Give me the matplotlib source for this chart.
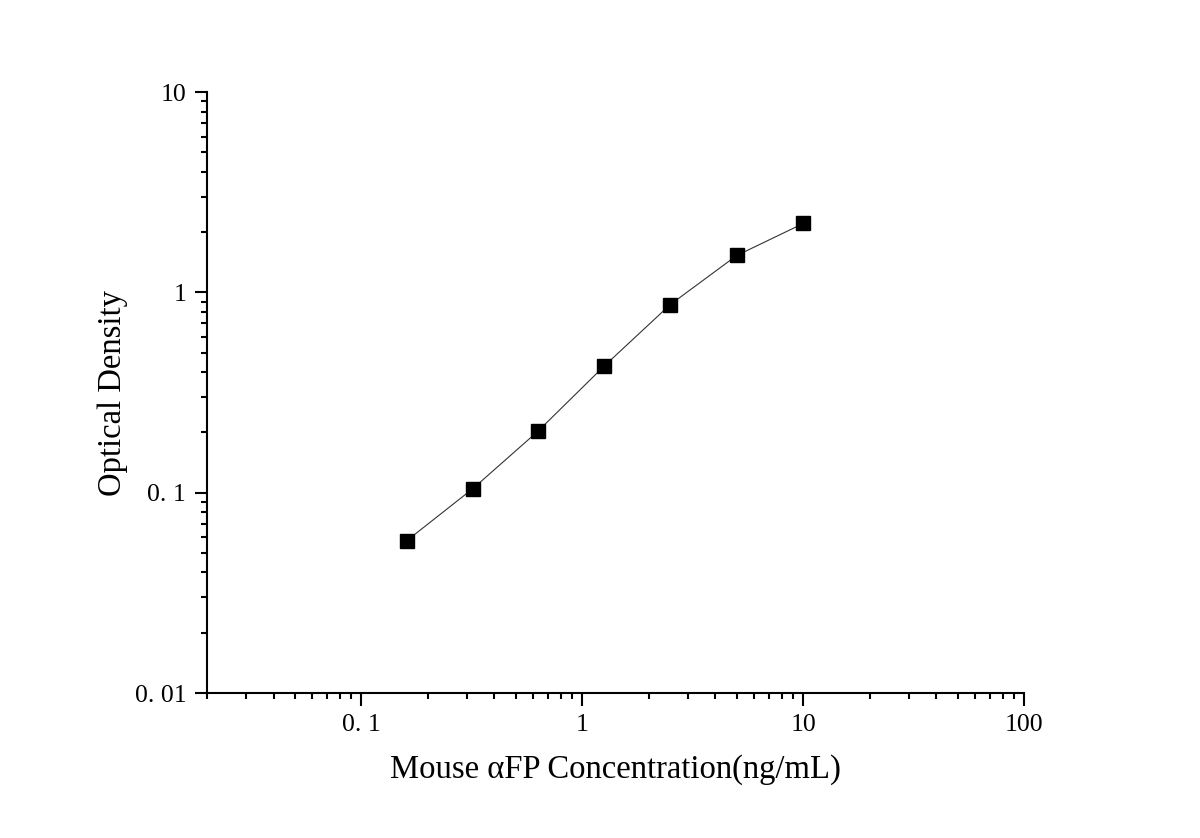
import numpy as np
import matplotlib.pyplot as plt
from matplotlib.ticker import FixedLocator, LogLocator, NullFormatter

# standard curve readings
conc = [0.16, 0.32, 0.63, 1.25, 2.5, 5, 10]
od = [0.0575, 0.105, 0.203, 0.427, 0.87, 1.53, 2.21]

xticks = [0.1, 1, 10, 100]
xlabels = ['0. 1', '1', '10', '100']
yticks = [0.01, 0.1, 1, 10]
ylabels = ['0. 01', '0. 1', '1', '10']

plt.rcParams['font.family'] = ['Liberation Serif', 'DejaVu Serif']

fig = plt.figure(figsize=(12, 8.38), dpi=100)
ax = fig.add_axes([0.1725, 0.173, 0.681, 0.717])

ax.plot(conc, od, color='#333333', lw=0.8, marker='s', markersize=9.5,
        markerfacecolor='black', markeredgecolor='black')

ax.set_xscale('log')
ax.set_yscale('log')
ax.set_xlim(0.02, 100)
ax.set_ylim(0.01, 10)

ax.xaxis.set_major_locator(FixedLocator(xticks))
ax.set_xticklabels(xlabels)
ax.yaxis.set_major_locator(FixedLocator(yticks))
ax.set_yticklabels(ylabels)
ax.xaxis.set_minor_locator(LogLocator(base=10, subs=np.arange(2, 10), numticks=20))
ax.yaxis.set_minor_locator(LogLocator(base=10, subs=np.arange(2, 10), numticks=20))
ax.xaxis.set_minor_formatter(NullFormatter())
ax.yaxis.set_minor_formatter(NullFormatter())

for s in ['top', 'right']:
    ax.spines[s].set_visible(False)
for s in ['left', 'bottom']:
    ax.spines[s].set_linewidth(1.5)

ax.tick_params(which='major', direction='out', length=9, width=1.5, labelsize=18.5, pad=6)
ax.tick_params(which='minor', direction='out', length=4.5, width=1.5)

ax.set_xlabel('Mouse \u03b1FP Concentration(ng/mL)', fontsize=23.5, labelpad=13)
ax.set_ylabel('Optical Density', fontsize=23.5, labelpad=5)

plt.savefig('out.png', dpi=100)
plt.close(fig)
